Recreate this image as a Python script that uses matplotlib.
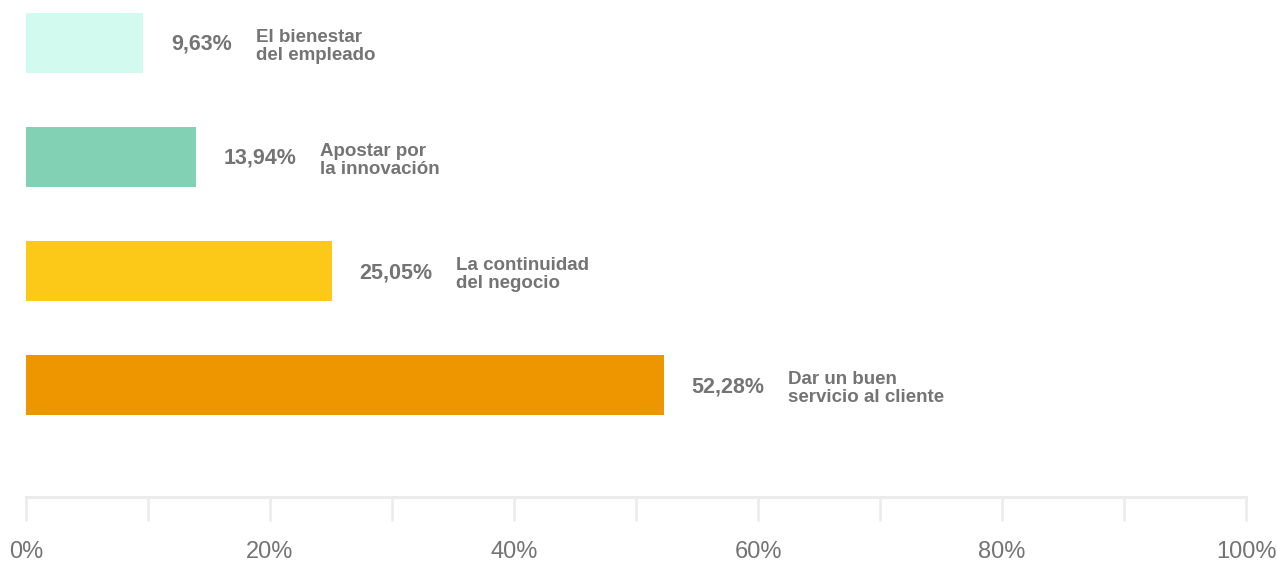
import matplotlib
matplotlib.use("Agg")
import matplotlib.pyplot as plt
from matplotlib.ticker import MultipleLocator, FuncFormatter

categories = ["El bienestar\ndel empleado", "Apostar por\nla innovación",
              "La continuidad\ndel negocio", "Dar un buen\nservicio al cliente"]
values = [9.63, 13.94, 25.05, 52.28]
colors = ["#d2faee", "#82d1b5", "#fdc918", "#ee9600"]
tick_values = [0, 20, 40, 60, 80, 100]

fam = ["Liberation Sans Narrow", "Liberation Sans", "DejaVu Sans"]
plt.rcParams["font.family"] = fam
txt_color = "#747474"

fig = plt.figure(figsize=(12.77, 5.63), dpi=100)
ax = fig.add_axes([26 / 1277, 66 / 563, 1220 / 1277, 497 / 563])

ypos = list(range(len(categories)))
ax.barh(ypos, values, height=0.53, color=colors, left=0)

for y, v, c in zip(ypos, values, categories):
    t = ax.annotate(f"{v:.2f}".replace(".", ",") + "%", xy=(v, y), xytext=(20, -1),
                    textcoords="offset points", ha="left", va="center",
                    fontsize=15.5, fontweight="bold", color=txt_color)
    ax.annotate(c, xy=(1, 0.5), xycoords=t, xytext=(17, -1.5), textcoords="offset points",
                ha="left", va="center", fontsize=13.5, fontweight="bold",
                color=txt_color, linespacing=1.08)

ax.set_xlim(0, 100)
ax.set_ylim(3.98, -0.377)

for s in ["top", "left", "right"]:
    ax.spines[s].set_visible(False)
ax.spines["bottom"].set_color("#ebebeb")
ax.spines["bottom"].set_linewidth(2.2)

ax.set_yticks([])
ax.set_xticks(tick_values)
ax.xaxis.set_minor_locator(MultipleLocator(10))
ax.xaxis.set_major_formatter(FuncFormatter(lambda x, p: f"{x:.0f}%"))
ax.tick_params(axis="x", which="both", direction="out", length=17.5, width=1.8,
               color="#ebebeb")
ax.tick_params(axis="x", which="major", pad=14, labelsize=17, labelcolor=txt_color)

fig.savefig("out.png", dpi=100)
